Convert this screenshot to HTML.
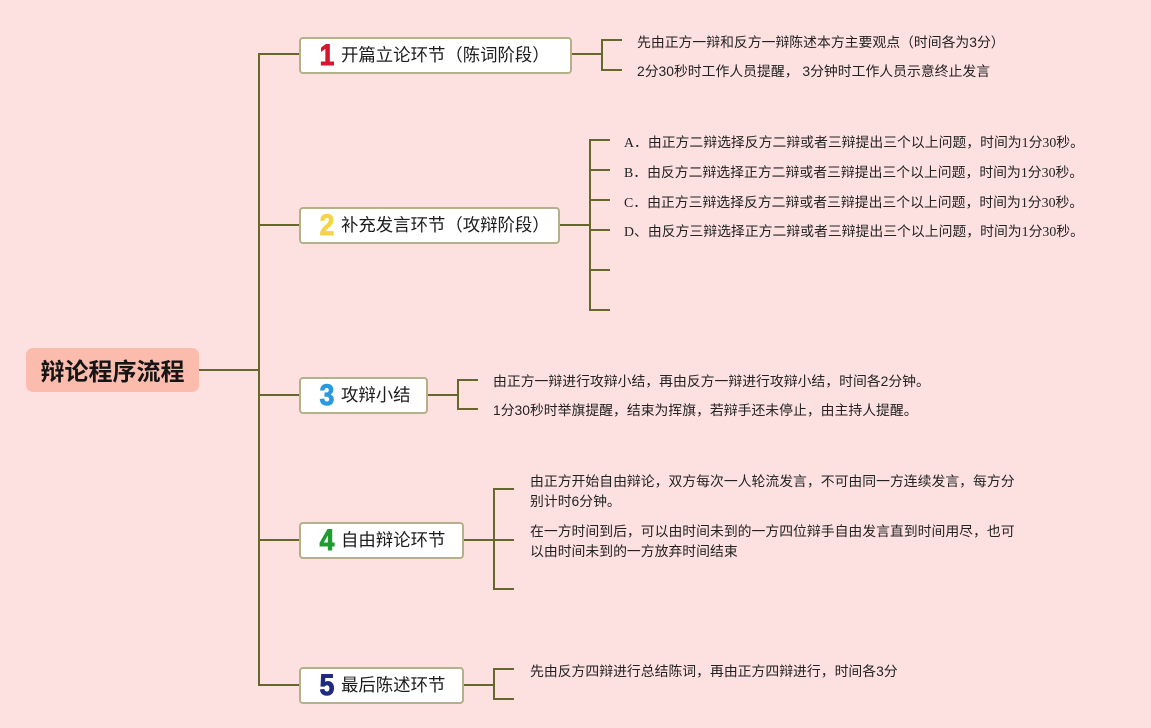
<!DOCTYPE html>
<html><head><meta charset="utf-8">
<style>
html,body{margin:0;padding:0;}
body{width:1151px;height:728px;background:#fde1e1;position:relative;overflow:hidden;font-family:"Liberation Sans","Noto Sans CJK SC",sans-serif;}
svg{position:absolute;left:0;top:0;}
.root{position:absolute;left:26px;top:348px;width:173px;height:44px;background:#fbbcad;border-radius:7px;text-align:center;line-height:44px;font-size:24px;font-weight:700;color:#151515;font-family:"Noto Sans CJK SC",sans-serif;}
.node{position:absolute;background:#fff;border:2px solid #b3b08c;border-radius:4px;box-sizing:border-box;height:37px;}
.num{position:absolute;left:17px;top:-1px;width:18px;text-align:center;font-family:"Liberation Sans",sans-serif;font-weight:700;font-size:30px;line-height:35px;transform:scaleX(0.88);-webkit-text-stroke:1px currentColor;}
.lab{position:absolute;left:40px;top:-1px;line-height:35px;font-size:17.4px;color:#1c1c1c;white-space:nowrap;font-family:"Liberation Sans","Noto Sans CJK SC",sans-serif;}
.t{position:absolute;font-size:13.85px;line-height:20px;color:#222;white-space:nowrap;font-family:"Liberation Sans","Noto Sans CJK SC",sans-serif;}
.s{font-family:"Liberation Serif",serif;}
</style></head><body>
<svg width="1151" height="728" viewBox="0 0 1151 728">
<g stroke="#66672c" stroke-width="2" fill="none">
<line x1="199" y1="370" x2="259" y2="370"/>
<line x1="259" y1="53" x2="259" y2="686"/>
<line x1="258" y1="54" x2="299" y2="54"/>
<line x1="259" y1="225" x2="299" y2="225"/>
<line x1="259" y1="395" x2="299" y2="395"/>
<line x1="259" y1="540" x2="299" y2="540"/>
<line x1="258" y1="685" x2="299" y2="685"/>
<!-- node1 -->
<line x1="572" y1="54" x2="602" y2="54"/>
<line x1="602" y1="39" x2="602" y2="71"/>
<line x1="601" y1="40" x2="622" y2="40"/>
<line x1="601" y1="70" x2="622" y2="70"/>
<!-- node2 -->
<line x1="560" y1="225" x2="590" y2="225"/>
<line x1="590" y1="139" x2="590" y2="311"/>
<line x1="589" y1="140" x2="610" y2="140"/>
<line x1="589" y1="170" x2="610" y2="170"/>
<line x1="589" y1="200" x2="610" y2="200"/>
<line x1="589" y1="230" x2="610" y2="230"/>
<line x1="589" y1="270" x2="610" y2="270"/>
<line x1="589" y1="310" x2="610" y2="310"/>
<!-- node3 -->
<line x1="428" y1="395" x2="458" y2="395"/>
<line x1="458" y1="379" x2="458" y2="410"/>
<line x1="457" y1="380" x2="478" y2="380"/>
<line x1="457" y1="409" x2="478" y2="409"/>
<!-- node4 -->
<line x1="464" y1="540" x2="494" y2="540"/>
<line x1="494" y1="488" x2="494" y2="590"/>
<line x1="493" y1="489" x2="514" y2="489"/>
<line x1="493" y1="540" x2="514" y2="540"/>
<line x1="493" y1="589" x2="514" y2="589"/>
<!-- node5 -->
<line x1="464" y1="685" x2="494" y2="685"/>
<line x1="494" y1="668" x2="494" y2="700"/>
<line x1="493" y1="669" x2="514" y2="669"/>
<line x1="493" y1="699" x2="514" y2="699"/>
</g>
</svg>

<div class="root">辩论程序流程</div>

<div class="node" style="left:299px;top:37px;width:273px;"><div class="num" style="color:#d5162f;">1</div><div class="lab">开篇立论环节（陈词阶段）</div></div>
<div class="node" style="left:299px;top:207px;width:261px;"><div class="num" style="color:#f3d447;">2</div><div class="lab">补充发言环节（攻辩阶段）</div></div>
<div class="node" style="left:299px;top:377px;width:129px;"><div class="num" style="color:#2a9ae0;">3</div><div class="lab">攻辩小结</div></div>
<div class="node" style="left:299px;top:522px;width:165px;"><div class="num" style="color:#1f9c2f;">4</div><div class="lab">自由辩论环节</div></div>
<div class="node" style="left:299px;top:667px;width:165px;"><div class="num" style="color:#1f2a80;">5</div><div class="lab">最后陈述环节</div></div>

<div class="t" style="left:637px;top:32px;">先由正方一辩和反方一辩陈述本方主要观点（时间各为3分）</div>
<div class="t" style="left:637px;top:61px;">2分30秒时工作人员提醒， 3分钟时工作人员示意终止发言</div>

<div class="t" style="left:624px;top:132px;"><span class="s">A</span>．由正方二辩选择反方二辩或者三辩提出三个以上问题，时间为<span class="s">1</span>分<span class="s">30</span>秒。</div>
<div class="t" style="left:624px;top:162px;"><span class="s">B</span>．由反方二辩选择正方二辩或者三辩提出三个以上问题，时间为<span class="s">1</span>分<span class="s">30</span>秒。</div>
<div class="t" style="left:624px;top:192px;"><span class="s">C</span>．由正方三辩选择反方二辩或者三辩提出三个以上问题，时间为<span class="s">1</span>分<span class="s">30</span>秒。</div>
<div class="t" style="left:624px;top:221px;"><span class="s">D</span>、由反方三辩选择正方二辩或者三辩提出三个以上问题，时间为<span class="s">1</span>分<span class="s">30</span>秒。</div>

<div class="t" style="left:493px;top:371px;">由正方一辩进行攻辩小结，再由反方一辩进行攻辩小结，时间各2分钟。</div>
<div class="t" style="left:493px;top:400px;">1分30秒时举旗提醒，结束为挥旗，若辩手还未停止，由主持人提醒。</div>

<div class="t" style="left:530px;top:471px;">由正方开始自由辩论，双方每次一人轮流发言，不可由同一方连续发言，每方分</div>
<div class="t" style="left:530px;top:491px;">别计时6分钟。</div>
<div class="t" style="left:530px;top:521px;">在一方时间到后，可以由时间未到的一方四位辩手自由发言直到时间用尽，也可</div>
<div class="t" style="left:530px;top:541px;">以由时间未到的一方放弃时间结束</div>

<div class="t" style="left:530px;top:661px;">先由反方四辩进行总结陈词，再由正方四辩进行，时间各3分</div>
</body></html>
